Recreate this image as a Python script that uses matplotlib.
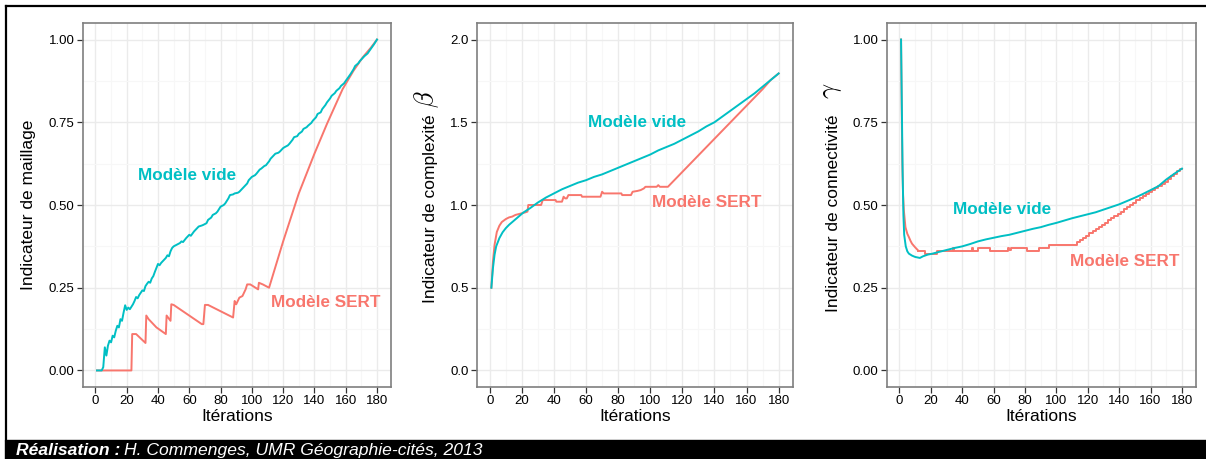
import matplotlib
matplotlib.use("Agg")
import matplotlib.pyplot as plt
from matplotlib.lines import Line2D
from matplotlib.patches import Rectangle

plt.rcParams['font.family'] = ['Liberation Sans', 'DejaVu Sans']
plt.rcParams['mathtext.fontset'] = 'cm'

RED = '#F8766D'
CYAN = '#00BFC4'

# ---- panel 1 : indicateur de maillage ----
p1_vide_x = [1, 4, 5, 6, 7, 8, 9, 10, 11, 12, 13, 14, 15, 16, 17, 18, 19, 20, 21, 22,
             24, 25, 26, 27, 28, 29, 30, 31, 32, 33, 34, 35, 36, 37, 38, 39, 40, 41, 42,
             43, 44, 45, 46, 47, 48, 49, 50, 52, 54, 55, 56, 58, 60, 61, 63, 65, 66, 68,
             69, 71, 72, 74, 75, 77, 78, 80, 82, 83, 85, 86, 88, 89, 91, 92, 94, 95, 97,
             98, 100, 102, 103, 105, 106, 108, 109, 111, 112, 114, 115, 117, 118, 120,
             121, 123, 124, 126, 127, 129, 130, 132, 133, 135, 136, 138, 139, 141, 142,
             144, 145, 147, 148, 150, 151, 153, 154, 156, 157, 159, 160, 162, 163, 165,
             166, 168, 169, 171, 172, 174, 175, 177, 178, 180]
p1_vide_y = [0.0, 0.0, 0.01, 0.07, 0.045, 0.075, 0.09, 0.085, 0.105, 0.10, 0.12, 0.135,
             0.13, 0.155, 0.15, 0.175, 0.197, 0.183, 0.19, 0.185,
             0.200, 0.21, 0.222, 0.218, 0.228, 0.235, 0.242, 0.24, 0.255, 0.262, 0.268,
             0.265, 0.278, 0.285, 0.298, 0.31, 0.322, 0.318, 0.325, 0.33, 0.335, 0.34,
             0.348, 0.345, 0.36, 0.37, 0.375, 0.38, 0.385, 0.39, 0.388, 0.40, 0.41,
             0.407, 0.42, 0.43, 0.435, 0.438, 0.44, 0.445, 0.455, 0.462, 0.47, 0.475,
             0.48, 0.495, 0.50, 0.505, 0.52, 0.53, 0.532, 0.535, 0.537, 0.54, 0.55,
             0.555, 0.565, 0.575, 0.585, 0.59, 0.595, 0.607, 0.61, 0.618, 0.62, 0.632,
             0.64, 0.65, 0.655, 0.658, 0.662, 0.672, 0.675, 0.68, 0.685, 0.697, 0.705,
             0.708, 0.715, 0.722, 0.73, 0.735, 0.74, 0.748, 0.755, 0.765, 0.775, 0.78,
             0.79, 0.802, 0.81, 0.822, 0.83, 0.838, 0.845, 0.853, 0.86, 0.868, 0.875,
             0.888, 0.895, 0.91, 0.92, 0.928, 0.935, 0.945, 0.95, 0.958, 0.965, 0.978,
             0.985, 1.0]
p1_sert_x = [1, 23, 23.5, 26, 32, 32.5, 34, 39, 45, 45.5, 48, 48.5, 50, 68, 69, 70, 72,
             88, 89, 90, 92, 94, 96, 97, 99, 104, 104.5, 107, 111, 120, 130, 140, 148,
             158, 165, 171, 176, 180]
p1_sert_y = [0.0, 0.0, 0.11, 0.11, 0.083, 0.166, 0.155, 0.13, 0.11, 0.166, 0.15, 0.20,
             0.198, 0.14, 0.14, 0.198, 0.198, 0.16, 0.21, 0.20, 0.22, 0.225, 0.245, 0.26,
             0.26, 0.245, 0.265, 0.26, 0.25, 0.39, 0.535, 0.655, 0.745, 0.85, 0.906,
             0.947, 0.975, 1.0]

# ---- panel 2 : indicateur de complexite beta ----
p2_vide_x = [1, 2, 3, 4, 6, 8, 10, 12, 15, 18, 21, 25, 30, 35, 40, 45, 50, 55, 60, 65,
             70, 75, 80, 85, 90, 95, 100, 105, 110, 115, 120, 125, 130, 135, 140, 145,
             150, 155, 160, 165, 170, 175, 180]
p2_vide_y = [0.5, 0.62, 0.70, 0.75, 0.80, 0.835, 0.86, 0.88, 0.905, 0.93, 0.955, 0.98,
             1.015, 1.045, 1.07, 1.095, 1.115, 1.135, 1.15, 1.17, 1.185, 1.205, 1.225,
             1.245, 1.265, 1.285, 1.305, 1.33, 1.35, 1.37, 1.395, 1.42, 1.445, 1.475,
             1.50, 1.535, 1.57, 1.605, 1.64, 1.675, 1.715, 1.755, 1.795]
p2_sert_x = [1, 2, 3, 4.4, 6, 7.5, 10, 12, 14, 16, 18, 20, 22, 23.5, 24, 32, 33, 41,
             41.5, 45, 46, 47, 48, 49, 57, 57.5, 69, 70, 71, 82, 82.5, 88, 89, 92, 94,
             96, 97, 104, 105, 106, 111, 170, 175, 180]
p2_sert_y = [0.5, 0.66, 0.76, 0.837, 0.875, 0.897, 0.915, 0.925, 0.93, 0.94, 0.945,
             0.95, 0.955, 0.96, 1.0, 1.0, 1.03, 1.03, 1.02, 1.02, 1.05, 1.04, 1.04,
             1.06, 1.06, 1.05, 1.05, 1.08, 1.07, 1.07, 1.06, 1.06, 1.08, 1.085, 1.09,
             1.10, 1.11, 1.11, 1.12, 1.11, 1.11, 1.70, 1.755, 1.795]

# ---- panel 3 : indicateur de connectivite gamma ----
p3_vide_x = [1, 1.5, 2, 2.5, 3, 4, 5, 6, 8, 10, 12, 13, 15, 18, 21, 25, 30, 35, 40, 45,
             50, 55, 60, 65, 70, 75, 80, 85, 90, 95, 100, 105, 110, 115, 120, 125, 130,
             135, 140, 145, 150, 155, 160, 165, 170, 175, 180]
p3_vide_y = [1.0, 0.8, 0.6, 0.47, 0.41, 0.375, 0.36, 0.353, 0.347, 0.343, 0.341, 0.34,
             0.345, 0.35, 0.353, 0.358, 0.364, 0.37, 0.375, 0.382, 0.39, 0.396, 0.401,
             0.406, 0.41, 0.416, 0.422, 0.428, 0.433, 0.44, 0.446, 0.453, 0.46, 0.466,
             0.472, 0.478, 0.486, 0.494, 0.502, 0.512, 0.522, 0.533, 0.545, 0.557,
             0.577, 0.594, 0.61]
# first 11 points form the smooth drop, the rest is a staircase
p3_sert_x = [1, 1.4, 1.8, 2.3, 2.8, 3.8, 5, 6, 7, 8, 10, 12, 16, 24, 34, 35, 46, 47, 50,
             58, 69, 70, 71, 81, 89, 95, 113, 115, 117, 119, 121, 123, 125, 127, 129,
             131, 133, 135, 137, 139, 141, 143, 145, 147, 149, 151, 153, 155, 157, 159,
             161, 163, 165, 167, 169, 171, 173, 175, 177, 179, 180]
p3_sert_y = [1.0, 0.8, 0.63, 0.53, 0.483, 0.433, 0.413, 0.403, 0.392, 0.383, 0.372,
             0.362, 0.352, 0.36, 0.37, 0.36, 0.37, 0.36, 0.37, 0.36, 0.37, 0.365, 0.37,
             0.36, 0.37, 0.38, 0.387, 0.394, 0.40, 0.407, 0.414, 0.42, 0.427, 0.434,
             0.44, 0.447, 0.454, 0.46, 0.467, 0.474, 0.48, 0.487, 0.494, 0.501, 0.507,
             0.514, 0.52, 0.526, 0.532, 0.538, 0.544, 0.55, 0.556, 0.562, 0.568, 0.578,
             0.588, 0.595, 0.602, 0.61, 0.61]
p3_smooth_n = 11

# label positions (data coords) : vide, sert
p1_labels = [(58.4, 0.589), (146.9, 0.205)]
p2_labels = [(91.9, 1.50), (135.3, 1.016)]
p3_labels = [(65.6, 0.486), (143.3, 0.329)]

W, H = 1206, 459
fig = plt.figure(figsize=(W / 100, H / 100), dpi=100)


def px_box(x0, y0, x1, y1):
    """pixel box (top-left origin) -> figure fraction rect"""
    return [x0 / W, 1 - y1 / H, (x1 - x0) / W, (y1 - y0) / H]


def style_axis(ax, ylim, yticks, yminor, yfmt):
    ax.set_xlim(-7.95, 188.95)
    ax.set_ylim(*ylim)
    ax.set_xticks(range(0, 181, 20))
    ax.set_xticks(range(10, 181, 20), minor=True)
    ax.set_yticks(yticks)
    ax.set_yticks(yminor, minor=True)
    ax.set_yticklabels([yfmt.format(v) for v in yticks])
    ax.grid(which='major', color='#EBEBEB', lw=1.0, zorder=0)
    ax.grid(which='minor', color='#F7F7F7', lw=0.8, zorder=0)
    ax.set_axisbelow(True)
    for s in ax.spines.values():
        s.set_color('#7F7F7F')
        s.set_linewidth(1.2)
    ax.tick_params(which='major', length=4, width=0.9, color='#333333',
                   labelsize=9.5, labelcolor='black', pad=2)
    ax.tick_params(which='minor', length=0)
    ax.set_xlabel('Itérations', fontsize=12.5, labelpad=1)


axes_px = [(83, 23, 391, 387), (477, 23, 793, 387), (887, 23, 1196, 387)]
ax1 = fig.add_axes(px_box(*axes_px[0]))
ax2 = fig.add_axes(px_box(*axes_px[1]))
ax3 = fig.add_axes(px_box(*axes_px[2]))

style_axis(ax1, (-0.05, 1.05), [0, 0.25, 0.5, 0.75, 1.0],
           [0.125, 0.375, 0.625, 0.875], '{:.2f}')
style_axis(ax2, (-0.1, 2.1), [0, 0.5, 1.0, 1.5, 2.0],
           [0.25, 0.75, 1.25, 1.75], '{:.1f}')
style_axis(ax3, (-0.05, 1.05), [0, 0.25, 0.5, 0.75, 1.0],
           [0.125, 0.375, 0.625, 0.875], '{:.2f}')

LW = 1.4
ax1.plot(p1_sert_x, p1_sert_y, color=RED, lw=LW, zorder=3)
ax1.plot(p1_vide_x, p1_vide_y, color=CYAN, lw=LW, zorder=3)
ax2.plot(p2_sert_x, p2_sert_y, color=RED, lw=LW, zorder=3)
ax2.plot(p2_vide_x, p2_vide_y, color=CYAN, lw=LW, zorder=3)
k = p3_smooth_n
ax3.plot(p3_sert_x[:k + 1], p3_sert_y[:k + 1], color=RED, lw=LW, zorder=3)
ax3.plot(p3_sert_x[k:], p3_sert_y[k:], color=RED, lw=LW, zorder=3,
         drawstyle='steps-post')
ax3.plot(p3_vide_x, p3_vide_y, color=CYAN, lw=LW, zorder=3)

for ax, labs in [(ax1, p1_labels), (ax2, p2_labels), (ax3, p3_labels)]:
    ax.text(*labs[0], 'Modèle vide', color=CYAN, fontsize=12.3, fontweight='bold',
            ha='center', va='center')
    ax.text(*labs[1], 'Modèle SERT', color=RED, fontsize=12.3, fontweight='bold',
            ha='center', va='center')


# y axis titles (placed in pixels, greek letters drawn with mathtext)
def ptext(x, y, s, **kw):
    return fig.text(x / W, 1 - y / H, s, **kw)


ptext(29, 290, 'Indicateur de maillage', rotation=90, ha='center', va='bottom',
      fontsize=12.5)
ptext(431, 303, 'Indicateur de complexité', rotation=90, ha='center', va='bottom',
      fontsize=12.5)
ptext(427, 99, r'$\beta$', rotation=90, ha='center', va='center', fontsize=19)
ptext(833, 312, 'Indicateur de connectivité', rotation=90, ha='center', va='bottom',
      fontsize=12.5)
ptext(832, 91, r'$\gamma$', rotation=90, ha='center', va='center', fontsize=19)

# frame and credit banner
fig.add_artist(Line2D([6 / W, 1], [1 - 6 / H, 1 - 6 / H], color='black', lw=1.6,
                      transform=fig.transFigure))
fig.add_artist(Line2D([6 / W, 6 / W], [1 - 6 / H, 19 / H], color='black', lw=1.6,
                      transform=fig.transFigure))
fig.add_artist(Rectangle((5 / W, 0), 1, 19 / H, color='black',
                         transform=fig.transFigure))

t1 = fig.text(16 / W, 4 / H, 'Réalisation :', color='white', fontsize=12.6,
              fontweight='bold', fontstyle='italic', ha='left', va='baseline')
renderer = fig.canvas.get_renderer()
bb = t1.get_window_extent(renderer)
fig.text((bb.x1 + 4) / W, 4 / H, 'H. Commenges, UMR Géographie-cités, 2013',
         color='white', fontsize=12.6, fontstyle='italic', ha='left', va='baseline')

fig.savefig('out.png', dpi=100, facecolor='white')
